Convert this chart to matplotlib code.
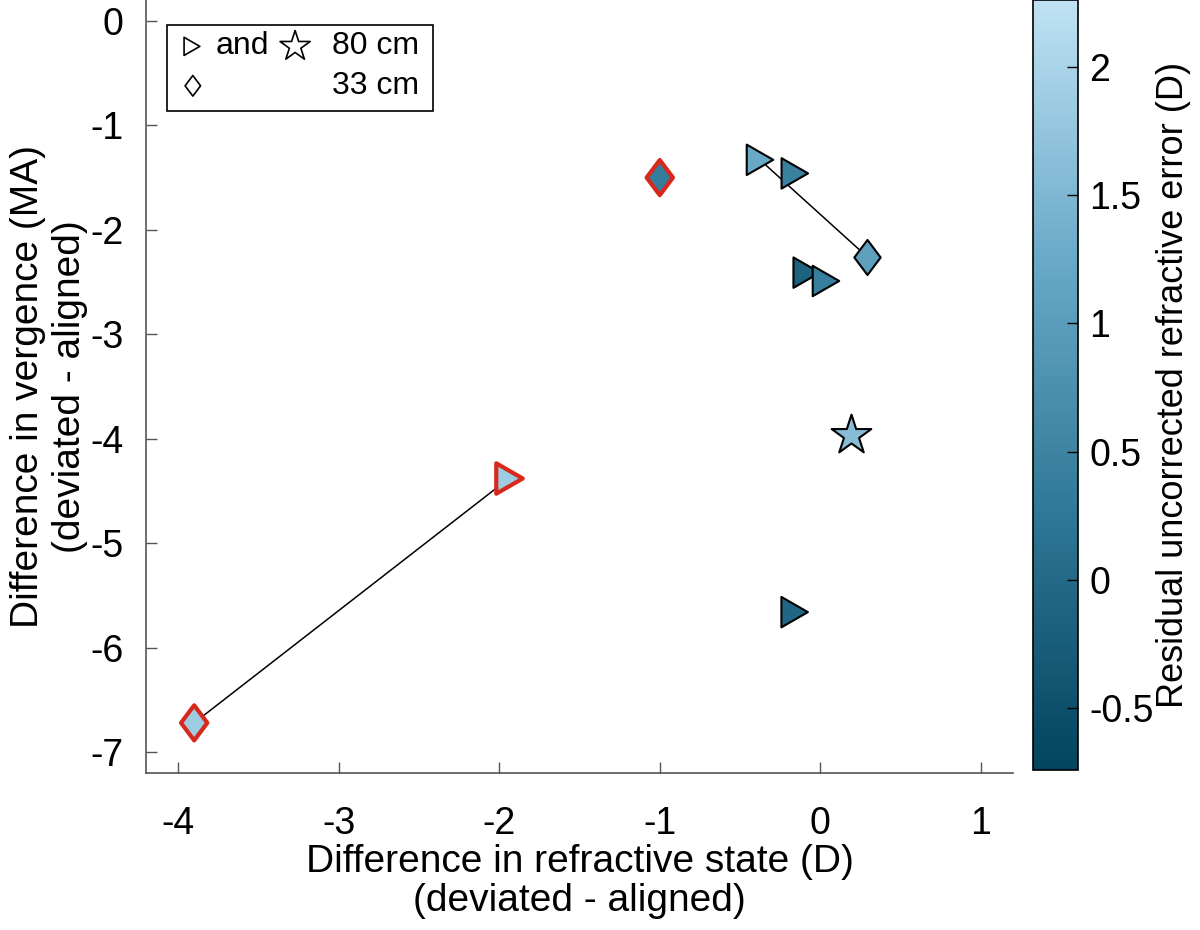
import numpy as np
import matplotlib
matplotlib.use('Agg')
import matplotlib.pyplot as plt
from matplotlib.colors import LinearSegmentedColormap
from matplotlib.path import Path
from matplotlib.patches import Rectangle

plt.rcParams['font.family'] = ['Liberation Sans', 'DejaVu Sans']
plt.rcParams['axes.unicode_minus'] = False

# data
refr_diff = [-3.90, -1.94, -1.00, -0.376, -0.159, 0.293, -0.085, 0.035, 0.19, -0.16]
verg_diff = [-6.72, -4.38, -1.50, -1.33, -1.46, -2.26, -2.41, -2.49, -3.96, -5.66]
residual = [1.85, 1.85, 0.35, 1.25, 0.45, 1.05, -0.15, 0.4, 1.6, -0.05]
kind = ['d', 't', 'd', 't', 't', 'd', 't', 't', 's', 't']   # d: 33 cm, t/s: 80 cm
flagged = [True, True, True, False, False, False, False, False, False, False]
pairs = [(0, 1), (3, 5)]

clim = (-0.74, 2.26)
cbar_ticks = [-0.5, 0, 0.5, 1, 1.5, 2]

cmap = LinearSegmentedColormap.from_list(
    'bluish', ['#03445e', '#2f7897', '#6aa9c8', '#bfe2f3'])

tri = Path([(-0.87, 1), (0.87, 0), (-0.87, -1), (-0.87, 1)],
           [Path.MOVETO, Path.LINETO, Path.LINETO, Path.CLOSEPOLY])
dia = Path([(0, 1), (0.75, 0), (0, -1), (-0.75, 0), (0, 1)],
           [Path.MOVETO, Path.LINETO, Path.LINETO, Path.LINETO, Path.CLOSEPOLY])
markers = {'t': (tri, 480), 'd': (dia, 640), 's': ('*', 900)}

fig = plt.figure(figsize=(12, 9.3), dpi=100)
ax = fig.add_axes([146 / 1200, 1 - 773 / 930, 867 / 1200, 773 / 930])

for a, b in pairs:
    ax.plot([refr_diff[a], refr_diff[b]], [verg_diff[a], verg_diff[b]],
            c='black', lw=1.1, zorder=1)

x = np.array(refr_diff)
y = np.array(verg_diff)
c = np.array(residual)
k = np.array(kind)
f = np.array(flagged)
for m, (shape, size) in markers.items():
    for red in (False, True):
        sel = (k == m) & (f == red)
        if not sel.any():
            continue
        ax.scatter(x[sel], y[sel], c=c[sel], cmap=cmap, vmin=clim[0], vmax=clim[1],
                   marker=shape, s=size,
                   edgecolors='#d8281c' if red else 'black',
                   linewidths=3.0 if red else 1.5, zorder=3)

ax.set_xlim(-4.2, 1.2)
ax.set_ylim(-7.2, 0.2)
ax.set_xticks([-4, -3, -2, -1, 0, 1])
ax.set_yticks([-7, -6, -5, -4, -3, -2, -1, 0])
ax.spines['top'].set_visible(False)
ax.spines['right'].set_visible(False)
for s in ('left', 'bottom'):
    ax.spines[s].set_color('#555555')
    ax.spines[s].set_linewidth(1.2)
ax.tick_params(direction='in', length=8, width=1, color='#555555',
               labelsize=27, labelcolor='black')
ax.tick_params(axis='x', pad=24)
ax.tick_params(axis='y', pad=16)

ax.set_xlabel('Difference in refractive state (D)\n(deviated - aligned)',
              fontsize=28, linespacing=1.1, labelpad=1)
ax.set_ylabel('Difference in vergence (MA)\n(deviated - aligned)',
              fontsize=28, linespacing=1.2, labelpad=2)

# legend box
ax.add_patch(Rectangle((0.0242, 0.856), 0.307, 0.112, transform=ax.transAxes,
                       fill=False, ec='black', lw=1.2, zorder=5))
ax.scatter([0.053], [0.940], marker=tri, s=170, facecolors='none', edgecolors='black',
           linewidths=1.2, transform=ax.transAxes, zorder=6)
ax.scatter([0.172], [0.940], marker='*', s=520, facecolors='none', edgecolors='black',
           linewidths=1.2, transform=ax.transAxes, zorder=6)
ax.scatter([0.054], [0.889], marker=dia, s=220, facecolors='none', edgecolors='black',
           linewidths=1.2, transform=ax.transAxes, zorder=6)
ax.text(0.080, 0.940, 'and', transform=ax.transAxes, fontsize=23, va='center')
ax.text(0.2145, 0.940, '80 cm', transform=ax.transAxes, fontsize=23, va='center')
ax.text(0.2145, 0.889, '33 cm', transform=ax.transAxes, fontsize=23, va='center')

# colorbar
cax = fig.add_axes([1033 / 1200, 1 - 770 / 930, 45 / 1200, 770 / 930])
sm = plt.cm.ScalarMappable(cmap=cmap, norm=plt.Normalize(*clim))
cb = fig.colorbar(sm, cax=cax, ticks=cbar_ticks)
cb.ax.set_yticklabels(['-0.5', '0', '0.5', '1', '1.5', '2'])
cb.outline.set_linewidth(1.2)
cb.ax.tick_params(direction='in', length=8, width=1, labelsize=27, pad=8)
cb.set_label('Residual uncorrected refractive error (D)', fontsize=26, labelpad=2)

fig.savefig('out.png', dpi=100)
